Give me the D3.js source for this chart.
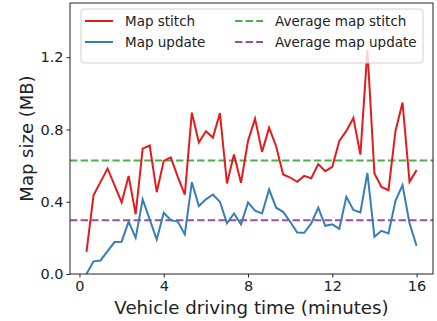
<!DOCTYPE html>
<html lang="en">
<head>
<meta charset="utf-8">
<title>Map size</title>
<script src="https://cdn.jsdelivr.net/npm/d3@7"></script>
<style>
  body { margin: 0; background: #fff; }
  text { font-family: "DejaVu Sans", sans-serif; fill: #222; }
</style>
</head>
<body>
<div id="chart"></div>
<script>
// sampled every 20 s (1/3 minute)
var stitch = [0.123, 0.436, 0.51, 0.584, 0.49, 0.396, 0.543, 0.331, 0.694, 0.711,
  0.453, 0.626, 0.645, 0.538, 0.44, 0.893, 0.728, 0.79, 0.755, 0.891,
  0.501, 0.661, 0.505, 0.737, 0.86, 0.676, 0.81, 0.707, 0.551, 0.534,
  0.51, 0.543, 0.53, 0.608, 0.569, 0.593, 0.737, 0.792, 0.864, 0.661,
  1.24, 0.556, 0.482, 0.464, 0.792, 0.949, 0.51, 0.575]
var update = [0.0, 0.07, 0.075, 0.127, 0.177, 0.179, 0.29, 0.2, 0.413, 0.302,
  0.191, 0.339, 0.298, 0.29, 0.219, 0.508, 0.376, 0.413, 0.44, 0.4,
  0.28, 0.335, 0.275, 0.396, 0.35, 0.335, 0.468, 0.367, 0.344, 0.289,
  0.23, 0.228, 0.28, 0.367, 0.267, 0.275, 0.25, 0.427, 0.354, 0.341,
  0.56, 0.206, 0.239, 0.225, 0.405, 0.492, 0.28, 0.156]
var avgStitch = 0.628
var avgUpdate = 0.298
var xTicks = [0, 4, 8, 12, 16]
var yTicks = [0, 0.4, 0.8, 1.2]
var legendItems = [
  {label: "Map stitch", color: "#e41a1c", dash: null},
  {label: "Map update", color: "#377eb8", dash: null},
  {label: "Average map stitch", color: "#4daf4a", dash: "7.4,3.2"},
  {label: "Average map update", color: "#984ea3", dash: "7.4,3.2"}
]

var w = 437, h = 321
// plot area edges (named so they don't clash with window.top)
var pL = 70, pR = 433, pT = 3, pB = 274

var svg = d3.select("#chart").append("svg")
  .attr("width", w).attr("height", h)

var x = d3.scaleLinear().domain([-0.45, 16.78]).range([pL, pR])
var y = d3.scaleLinear().domain([0, 1.5]).range([pB, pT])

function series(vals) {
  return vals.map(function(v, i) { return [(i + 1) / 3, v] })
}

var line = d3.line()
  .x(function(d) { return x(d[0]) })
  .y(function(d) { return y(d[1]) })

svg.append("defs").append("clipPath").attr("id", "clip")
  .append("rect").attr("x", pL).attr("y", pT)
  .attr("width", pR - pL).attr("height", pB - pT)

var plot = svg.append("g").attr("clip-path", "url(#clip)")

// averages
plot.append("line")
  .attr("x1", pL).attr("x2", pR)
  .attr("y1", y(avgStitch)).attr("y2", y(avgStitch))
  .attr("stroke", "#4daf4a").attr("stroke-width", 2)
  .attr("stroke-dasharray", "7.4,3.2")
plot.append("line")
  .attr("x1", pL).attr("x2", pR)
  .attr("y1", y(avgUpdate)).attr("y2", y(avgUpdate))
  .attr("stroke", "#984ea3").attr("stroke-width", 2)
  .attr("stroke-dasharray", "7.4,3.2")

plot.append("path").datum(series(stitch))
  .attr("d", line).attr("fill", "none")
  .attr("stroke", "#e41a1c").attr("stroke-width", 2)
plot.append("path").datum(series(update))
  .attr("d", line).attr("fill", "none")
  .attr("stroke", "#377eb8").attr("stroke-width", 2)

// axes
var xAxis = d3.axisBottom(x).tickValues(xTicks).tickSize(3.5).tickPadding(3)
var yAxis = d3.axisLeft(y).tickValues(yTicks).tickSize(3.5).tickPadding(3)
  .tickFormat(d3.format(".1f"))

var gx = svg.append("g").attr("transform", "translate(0," + pB + ")").call(xAxis)
var gy = svg.append("g").attr("transform", "translate(" + pL + ",0)").call(yAxis)
;[gx, gy].forEach(function(g) {
  g.select(".domain").remove()
  g.selectAll("line").attr("stroke", "#222")
  g.selectAll("text").attr("font-size", "14.5px").attr("font-family", "DejaVu Sans").attr("fill", "#222")
})

// frame
svg.append("rect")
  .attr("x", pL).attr("y", pT)
  .attr("width", pR - pL).attr("height", pB - pT)
  .attr("fill", "none").attr("stroke", "#222").attr("stroke-width", 1)

// axis labels
svg.append("text")
  .attr("x", (pL + pR) / 2).attr("y", 314)
  .attr("text-anchor", "middle").attr("font-size", "18.2px")
  .text("Vehicle driving time (minutes)")
svg.append("text")
  .attr("transform", "translate(33," + (pT + pB) / 2 + ") rotate(-90)")
  .attr("text-anchor", "middle").attr("font-size", "18px")
  .text("Map size (MB)")

// legend
var lg = svg.append("g")
lg.append("rect")
  .attr("x", 81).attr("y", 9).attr("width", 342).attr("height", 54)
  .attr("rx", 3).attr("fill", "#fff").attr("fill-opacity", 0.8)
  .attr("stroke", "#d0d0d0").attr("stroke-width", 1)

var cols = [85, 235]
var rows = [21, 42]
legendItems.forEach(function(d, i) {
  var cx = cols[Math.floor(i / 2)], cy = rows[i % 2]
  lg.append("line")
    .attr("x1", cx).attr("x2", cx + 28)
    .attr("y1", cy).attr("y2", cy)
    .attr("stroke", d.color).attr("stroke-width", 2)
    .attr("stroke-dasharray", d.dash)
  lg.append("text")
    .attr("x", cx + 40).attr("y", cy + 5)
    .attr("font-size", "13.5px")
    .text(d.label)
})
</script>
</body>
</html>
